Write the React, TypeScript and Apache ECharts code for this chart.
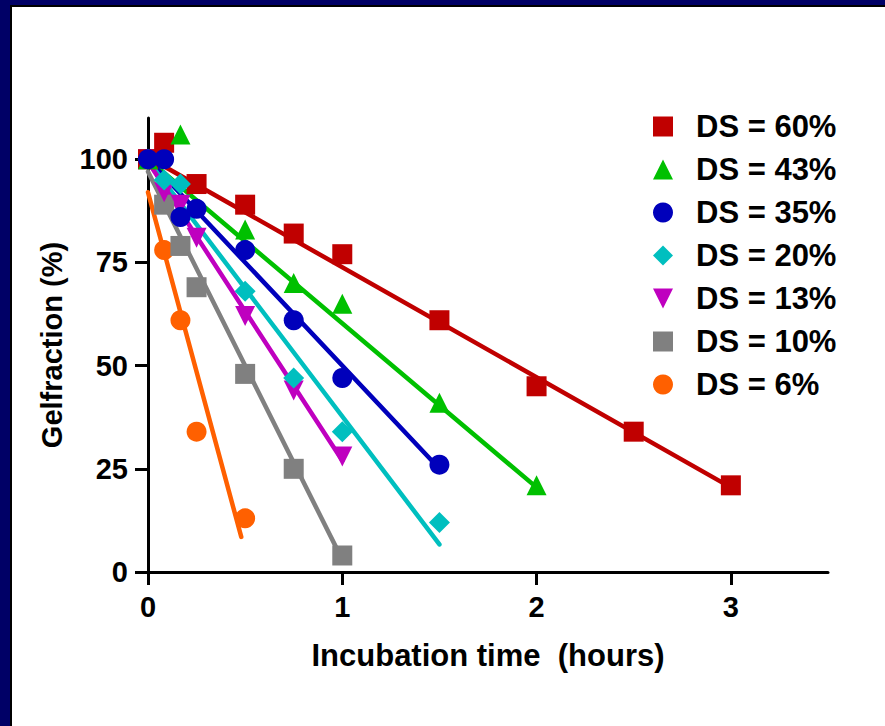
import React, { useEffect, useRef } from "react";
import * as echarts from "echarts";

// ---- data ----
const xTickValues = [0, 1, 2, 3];
const yTickValues = [0, 25, 50, 75, 100];

const seriesNames = ["DS = 60%", "DS = 43%", "DS = 35%", "DS = 20%", "DS = 13%", "DS = 10%", "DS = 6%"];

const ds60X = [0, 0.083, 0.25, 0.5, 0.75, 1, 1.5, 2, 2.5, 3];
const ds60Y = [100, 104, 94, 89, 82, 77, 61, 45, 34, 21];
const ds43X = [0, 0.167, 0.5, 0.75, 1, 1.5, 2];
const ds43Y = [100, 106, 83, 70, 65, 41, 21];
const ds35X = [0, 0.083, 0.167, 0.25, 0.5, 0.75, 1, 1.5];
const ds35Y = [100, 100, 86, 88, 78, 61, 47, 26];
const ds20X = [0, 0.083, 0.167, 0.5, 0.75, 1, 1.5];
const ds20Y = [100, 95, 94, 68, 47, 34, 12];
const ds13X = [0, 0.083, 0.167, 0.25, 0.5, 0.75, 1];
const ds13Y = [100, 92, 89, 81, 62, 44, 28];
const ds10X = [0, 0.083, 0.167, 0.25, 0.5, 0.75, 1];
const ds10Y = [100, 89, 79, 69, 48, 25, 4];
const ds6X = [0, 0.083, 0.167, 0.25, 0.5];
const ds6Y = [100, 78, 61, 34, 13];

// fitted regression lines (start x, start y, end x, end y) as drawn in the reference
const fit60 = [0, 100.5, 3, 20.5];
const fit43 = [0, 100, 2, 20.5];
const fit35 = [0, 100, 1.5, 25];
const fit20 = [0, 99.7, 1.5, 6.7];
const fit13 = [0, 99.4, 1, 27];
const fit10 = [0, 97, 1, 3];
const fit6 = [0, 92, 0.48, 8.5];

const colors = ["#C00000", "#00C000", "#0000BB", "#00BFBF", "#BF00BF", "#808080", "#FF6000"];
const symbols = ["rect", "triangle", "circle", "diamond", "triangle", "rect", "circle"];
const legendIcons = ["rect", "triangle", "circle", "diamond", "path://M0,0L20,0L10,20Z", "rect", "circle"];

const xs = [ds60X, ds43X, ds35X, ds20X, ds13X, ds10X, ds6X];
const ys = [ds60Y, ds43Y, ds35Y, ds20Y, ds13Y, ds10Y, ds6Y];
const fits = [fit60, fit43, fit35, fit20, fit13, fit10, fit6];

const FONT = "'Liberation Sans', Arial, sans-serif";

export default function App() {
  const ref = useRef<HTMLDivElement>(null);
  useEffect(() => {
    if (!ref.current) return;
    const chart = echarts.init(ref.current, undefined, { renderer: "svg" });

    const lineSeries = fits.map((f, i) => ({
      type: "line",
      name: "fit" + i,
      data: [[f[0], f[1]], [f[2], f[3]]],
      showSymbol: false,
      symbol: "none",
      lineStyle: { color: colors[i], width: 4.5, cap: "round" },
      z: 2,
      silent: true,
    }));
    // draw order so that blue ends on top near the origin
    const drawOrder = [6, 5, 4, 0, 1, 3, 2];
    const scatterSeries = drawOrder.map((i) => ({
      type: "scatter",
      name: seriesNames[i],
      data: xs[i].map((x, k) => [x, ys[i][k]]),
      symbol: symbols[i],
      symbolSize: i === 3 ? 21 : 20,
      symbolRotate: i === 4 ? 180 : 0,
      itemStyle: { color: colors[i], opacity: 1 },
      z: 3,
    }));

    chart.setOption({
      animation: false,
      backgroundColor: "#ffffff",
      textStyle: { fontFamily: FONT },
      grid: { left: 148, right: 57, top: 118, bottom: 154, containLabel: false },
      graphic: [
        { type: "rect", shape: { x: 0, y: 0, width: 885, height: 6 }, style: { fill: "#000066" }, z: 100 },
        { type: "rect", shape: { x: 0, y: 0, width: 10, height: 726 }, style: { fill: "#000066" }, z: 100 },
        { type: "rect", shape: { x: 10, y: 5, width: 875, height: 2 }, style: { fill: "#000000" }, z: 100 },
        { type: "rect", shape: { x: 10, y: 5, width: 2, height: 721 }, style: { fill: "#000000" }, z: 100 },
      ],
      legend: {
        orient: "vertical",
        left: 648,
        top: 106,
        itemWidth: 20,
        itemHeight: 20,
        itemGap: 12,
        data: seriesNames.map((n, i) => ({ name: n, icon: legendIcons[i] })),
        formatter: (name: string) => "{g|}{t|" + name + "}",
        textStyle: {
          fontSize: 31,
          fontWeight: "bold",
          color: "#000",
          fontFamily: FONT,
          lineHeight: 30,
          rich: {
            g: { width: 18, height: 30, lineHeight: 30 },
            t: { fontSize: 31, fontWeight: "bold", color: "#000", fontFamily: FONT, lineHeight: 30 },
          },
        },
        selectedMode: false,
      },
      xAxis: {
        type: "value",
        min: 0,
        max: 3.5,
        interval: 1,
        name: "Incubation time  (hours)",
        nameLocation: "middle",
        nameGap: 68,
        nameTextStyle: { fontSize: 31, fontWeight: "bold", color: "#000", fontFamily: FONT },
        axisLine: { show: true, lineStyle: { color: "#000", width: 3 } },
        axisTick: { show: true, length: 13, lineStyle: { color: "#000", width: 3 }, customValues: xTickValues },
        axisLabel: { fontSize: 29, fontWeight: "bold", color: "#000", margin: 20, fontFamily: FONT, customValues: xTickValues },
        splitLine: { show: false },
      },
      yAxis: {
        type: "value",
        min: 0,
        max: 110,
        interval: 25,
        name: "Gelfraction (%)",
        nameLocation: "middle",
        nameGap: 82,
        nameTextStyle: { fontSize: 29, fontWeight: "bold", color: "#000", fontFamily: FONT },
        axisLine: { show: true, lineStyle: { color: "#000", width: 3 } },
        axisTick: { show: true, length: 13, lineStyle: { color: "#000", width: 3 }, customValues: yTickValues },
        axisLabel: { fontSize: 29, fontWeight: "bold", color: "#000", margin: 20, fontFamily: FONT, customValues: yTickValues },
        splitLine: { show: false },
      },
      series: [...lineSeries, ...scatterSeries],
    });
    return () => chart.dispose();
  }, []);
  return (
    <div
      ref={ref}
      style={{ position: "absolute", left: 0, top: 0, width: 885, height: 726, background: "#fff" }}
    />
  );
}
